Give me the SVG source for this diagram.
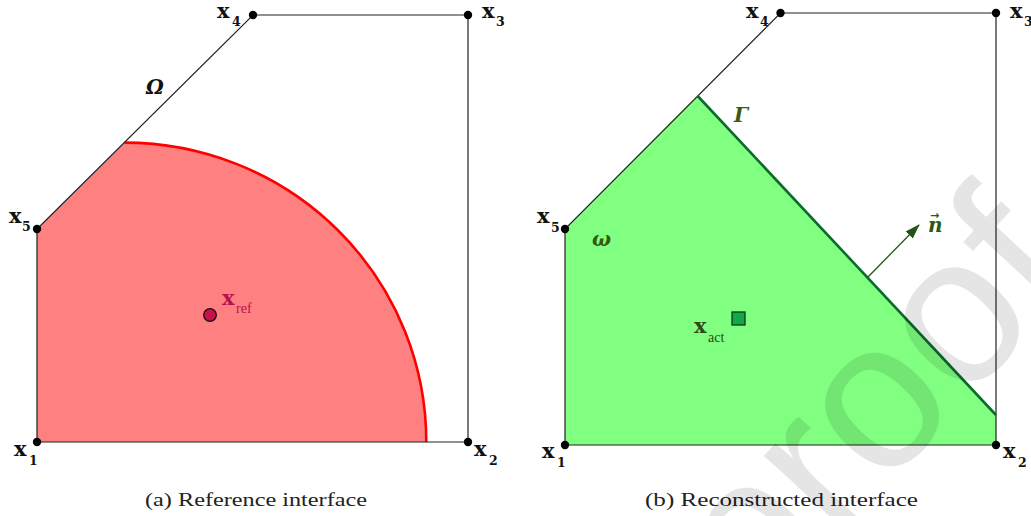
<svg xmlns="http://www.w3.org/2000/svg" width="1031" height="516" viewBox="0 0 1031 516">
<style>
.edge{fill:none;stroke:#222;stroke-width:1.2}
.dot{fill:#000}
.vx{font-family:"DejaVu Serif","Liberation Serif",serif;font-weight:bold;font-size:21px;fill:#111}
.vs{font-family:"DejaVu Serif","Liberation Serif",serif;font-weight:bold;font-size:12.5px;fill:#111}
.cap{font-family:"Liberation Serif","DejaVu Serif",serif;font-size:19.5px;fill:#222}
.it{font-family:"DejaVu Serif","Liberation Serif",serif;font-style:italic;font-weight:bold;font-size:20px}
.sub{font-family:"Liberation Serif","DejaVu Serif",serif;font-size:14px}
</style>
<defs>
<marker id="arr" markerUnits="userSpaceOnUse" markerWidth="16" markerHeight="12" refX="14" refY="5" orient="auto">
<path d="M0,0 L15,5 L0,10 Z" fill="#24521a"/>
</marker>
</defs>
<rect width="1031" height="516" fill="#fff"/>

<g id="panel-a">
<g id="region-ref">
<path d="M37,442 L37,229 L124.6,142.6 A301.7 299.4 0 0 1 426.3,442 Z" fill="#ff8080"/>
<path d="M124.6,142.6 A301.7 299.4 0 0 1 426.3,442" fill="none" stroke="#ff0000" stroke-width="2.6"/>
</g>
<g id="connectors-a">
<path class="edge" d="M37,442 L468,442 L468,15 L253,15 L37,229 Z"/>
</g>
<text x="146" y="94" class="it" fill="#111">Ω</text>
<g id="a-x1"><circle class="dot" cx="37" cy="442" r="4.2"/><text class="vx" x="14" y="456">x</text><text class="vs" x="29" y="465">1</text></g>
<g id="a-x2"><circle class="dot" cx="468" cy="442" r="4.2"/><text class="vx" x="474" y="456">x</text><text class="vs" x="489" y="465">2</text></g>
<g id="a-x3"><circle class="dot" cx="468" cy="15" r="4.2"/><text class="vx" x="482" y="18">x</text><text class="vs" x="496" y="26">3</text></g>
<g id="a-x4"><circle class="dot" cx="253" cy="15" r="4.2"/><text class="vx" x="217" y="18">x</text><text class="vs" x="232" y="26">4</text></g>
<g id="a-x5"><circle class="dot" cx="37" cy="229" r="4.2"/><text class="vx" x="9" y="223">x</text><text class="vs" x="22" y="231">5</text></g>
<g id="a-xref">
<circle cx="210" cy="315" r="6.3" fill="#c8104a" stroke="#111" stroke-width="1.3"/>
<text class="vx" x="222" y="305" style="fill:#b8124a">x</text>
<text class="sub" x="236" y="313" fill="#b8124a">ref</text>
</g>
<text class="cap" x="145" y="505.5" textLength="222" lengthAdjust="spacingAndGlyphs">(a) Reference interface</text>
</g>

<g id="panel-b">
<g id="region-rec">
<path d="M565,445 L565,229 L697.7,96 L996,415 L996,445 Z" fill="#80ff80"/>
</g>
<g id="connectors-b">
<path class="edge" d="M565,445 L996,445 L996,13 L780.5,13 L565,229 Z"/>
<path d="M697.7,96 L996,415" fill="none" stroke="#0b6b2b" stroke-width="2.6"/>
<path d="M868,277 L919,225" fill="none" stroke="#24521a" stroke-width="1.3" marker-end="url(#arr)"/>
</g>
<text x="734" y="122" class="it" fill="#3d5a12">Γ</text>
<text x="592" y="246" class="it" fill="#2f5a10">ω</text>
<g id="n-label">
<text x="928" y="232" class="it" fill="#2a5a10">n</text>
<text x="930" y="219" font-family="DejaVu Sans,sans-serif" font-size="11" font-weight="bold" fill="#2a5a10">→</text>
</g>
<g id="b-x1"><circle class="dot" cx="565" cy="445" r="4.2"/><text class="vx" x="542" y="458">x</text><text class="vs" x="557" y="467">1</text></g>
<g id="b-x2"><circle class="dot" cx="996" cy="445" r="4.2"/><text class="vx" x="1003" y="458">x</text><text class="vs" x="1018" y="467">2</text></g>
<g id="b-x3"><circle class="dot" cx="996" cy="13" r="4.2"/><text class="vx" x="1010" y="18">x</text><text class="vs" x="1024" y="26">3</text></g>
<g id="b-x4"><circle class="dot" cx="780.5" cy="13" r="4.2"/><text class="vx" x="746" y="18">x</text><text class="vs" x="760" y="26">4</text></g>
<g id="b-x5"><circle class="dot" cx="565" cy="229" r="4.2"/><text class="vx" x="537" y="223">x</text><text class="vs" x="551" y="232">5</text></g>
<g id="b-xact">
<rect x="732" y="312" width="13" height="13" fill="#12a84a" stroke="#0c3a18" stroke-width="1.3"/>
<text class="vx" x="694" y="333" style="fill:#2f4a10">x</text>
<text class="sub" x="708" y="342" fill="#2f4a10">act</text>
</g>
<text class="cap" x="645" y="506" textLength="273" lengthAdjust="spacingAndGlyphs">(b) Reconstructed interface</text>
</g>

<text id="watermark" x="0" y="0" transform="translate(755.7,627.1) rotate(-47)" font-family="Liberation Sans,Arial,sans-serif" font-size="210" fill="#000" fill-opacity="0.1">proof</text>
</svg>
